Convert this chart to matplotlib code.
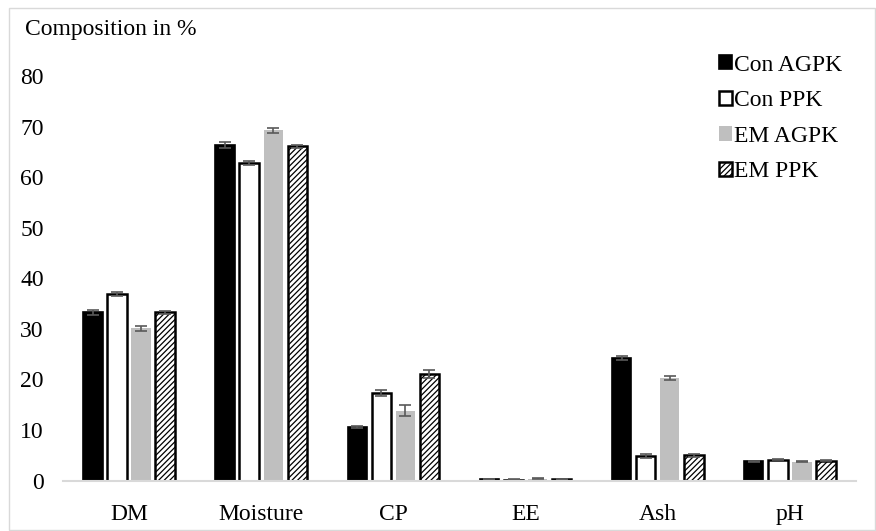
import numpy as np
import matplotlib.pyplot as plt
from matplotlib.patches import Rectangle

plt.rcParams['font.family'] = ['Liberation Serif', 'DejaVu Serif']
plt.rcParams['hatch.linewidth'] = 0.9

# data
categories = ["DM", "Moisture", "CP", "EE", "Ash", "pH"]
series_names = ["Con AGPK", "Con PPK", "EM AGPK", "EM PPK"]

con_agpk = [33.3, 66.3, 10.6, 0.3, 24.2, 3.8]
con_ppk = [36.9, 62.7, 17.4, 0.2, 4.8, 4.1]
em_agpk = [30.1, 69.3, 13.8, 0.4, 20.2, 3.7]
em_ppk = [33.3, 66.1, 21.1, 0.3, 5.0, 3.9]

con_agpk_err = [0.5, 0.6, 0.2, 0.05, 0.4, 0.1]
con_ppk_err = [0.4, 0.4, 0.6, 0.05, 0.4, 0.1]
em_agpk_err = [0.5, 0.5, 1.1, 0.1, 0.4, 0.1]
em_ppk_err = [0.3, 0.3, 0.8, 0.05, 0.3, 0.1]

yticks = [0, 10, 20, 30, 40, 50, 60, 70, 80]

values = [con_agpk, con_ppk, em_agpk, em_ppk]
errors = [con_agpk_err, con_ppk_err, em_agpk_err, em_ppk_err]
styles = [
    dict(color="black", edgecolor="black", hatch=None, linewidth=1.2),
    dict(color="white", edgecolor="black", hatch=None, linewidth=1.8),
    dict(color="#bfbfbf", edgecolor="#bfbfbf", hatch=None, linewidth=0),
    dict(color="white", edgecolor="black", hatch="//////", linewidth=1.8),
]

FS = 17

fig = plt.figure(figsize=(8.76, 5.31), dpi=100)
ax = fig.add_axes([0.072, 0.095, 0.905, 0.762])

x = np.arange(len(categories))
step = 0.182
width = 0.148
for i, (vals, errs, st) in enumerate(zip(values, errors, styles)):
    pos = x + (i - 1.5) * step
    ax.bar(pos, vals, width, label=series_names[i], color=st["color"],
           edgecolor=st["edgecolor"], hatch=st["hatch"], linewidth=st["linewidth"],
           zorder=2)
    ax.errorbar(pos, vals, yerr=errs, fmt="none", ecolor="#595959",
                elinewidth=1.2, capsize=4, capthick=1.2, zorder=3)

ax.set_xlim(-0.5, len(categories) - 0.5)
ax.set_ylim(0, 80)
ax.set_yticks(yticks)
ax.set_xticks(x)
ax.set_xticklabels(categories, fontsize=FS)
ax.tick_params(axis="y", length=0, labelsize=FS, pad=14)
ax.tick_params(axis="x", length=0, labelsize=FS, pad=17)

for side in ["top", "right", "left"]:
    ax.spines[side].set_visible(False)
ax.spines["bottom"].set_color("#d9d9d9")
ax.spines["bottom"].set_linewidth(1.5)
ax.spines["bottom"].set_zorder(4)

leg = ax.legend(loc="upper right", bbox_to_anchor=(0.972, 0.915),
                bbox_transform=fig.transFigure, frameon=False,
                fontsize=FS, handlelength=0.55, handleheight=0.55,
                handletextpad=0.1, labelspacing=0.62, borderaxespad=0)

fig.text(0.028, 0.944, "Composition in %", fontsize=FS, ha="left", va="center")

# outer chart border
fig.patches.append(Rectangle((9 / 876, 1 / 531), 866 / 876, 522 / 531,
                             transform=fig.transFigure, fill=False,
                             edgecolor="#d9d9d9", linewidth=1.0))

fig.savefig("out.png", dpi=100)
